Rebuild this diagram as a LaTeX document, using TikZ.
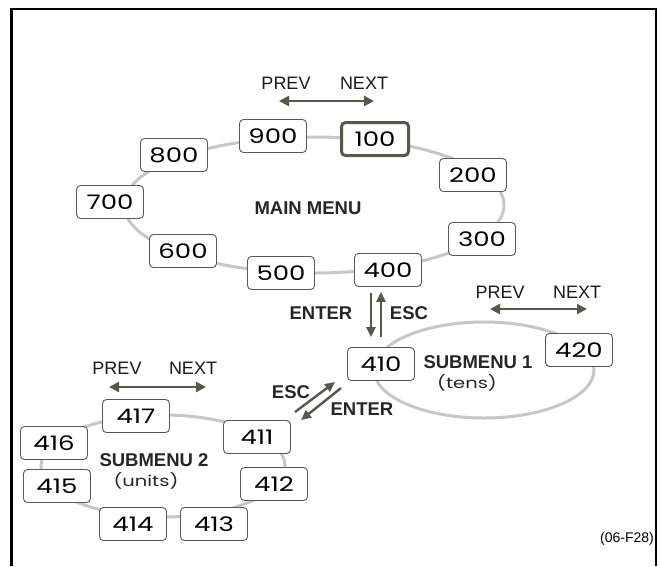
\documentclass[tikz,border=0pt]{standalone}
\usepackage{fontspec}
\setmainfont{Liberation Sans}
\newfontfamily\numfont[FakeStretch=1.3]{Poppins}
\usetikzlibrary{arrows.meta,calc}
\definecolor{arrowc}{HTML}{57584B}
\definecolor{ringc}{HTML}{C6C7C9}
\definecolor{boxc}{HTML}{5A5A55}
\tikzset{
  numbox/.style={draw=boxc, line width=0.9pt, rounded corners=4pt, fill=white,
    minimum width=67pt, minimum height=33pt, inner sep=0pt,
    font=\numfont\fontsize{20}{20}\selectfont},
  selbox/.style={numbox, draw=arrowc, line width=3pt},
  ring/.style={draw=ringc, line width=3pt},
  navarrow/.style={draw=arrowc, line width=2.4pt, {Triangle[length=10pt,width=10pt]}-{Triangle[length=10pt,width=10pt]}},
  onearrow/.style={draw=arrowc, line width=2.4pt, -{Triangle[length=10pt,width=9pt]}},
  navlabel/.style={font=\fontsize{18}{18}\selectfont, inner sep=0pt, text=black!90},
  boldlabel/.style={font=\bfseries\fontsize{18.5}{18.5}\selectfont, inner sep=0pt, text=black!85},
  sublabel/.style={font=\numfont\fontsize{15}{15}\selectfont, inner sep=0pt, text=black!85},
}
\begin{document}
\begin{tikzpicture}[x=1pt,y=-1pt]
\useasboundingbox (0,0) rectangle (660,566);
% frame
\draw[line width=2.3pt] (11.5,566) -- (11.5,9) -- (656,9) -- (656,566);

% rings
\draw[ring] (314,205) ellipse [x radius=190, y radius=68];
\draw[ring] (484,370) ellipse [x radius=110, y radius=48];
\draw[ring] (163,466) ellipse [x radius=122, y radius=51];

% main menu
\node[numbox] (n900) at (273,136) {900};
\node[selbox] (n100) at (375,139) {100};
\node[numbox] (n800) at (174,155) {800};
\node[numbox] (n200) at (473,175) {200};
\node[numbox] (n700) at (110,202) {700};
\node[numbox] (n300) at (482,239) {300};
\node[numbox] (n600) at (183,251) {600};
\node[numbox] (n500) at (281,273) {500};
\node[numbox] (n400) at (388,270) {400};
\node[boldlabel] (mm) at (308,208) {MAIN MENU};

\node[navlabel] (p1) at (286,83) {PREV};
\node[navlabel] (x1) at (364,83) {NEXT};
\coordinate (a1l) at (279,101);
\coordinate (a1r) at (374,101);
\draw[navarrow] (a1l) -- (a1r);

% submenu 1
\node[numbox] (n410) at (381,364) {410};
\node[numbox] (n420) at (579,350) {420};
\node[boldlabel] (s1) at (478,362) {SUBMENU 1};
\node[sublabel] (s1u) at (467,383) {(tens)};
\node[navlabel] (p2) at (500,292) {PREV};
\node[navlabel] (x2) at (577,292) {NEXT};
\coordinate (a2l) at (490,309);
\coordinate (a2r) at (587,309);
\draw[navarrow] (a2l) -- (a2r);

% enter / esc between 400 and 410
\draw[onearrow] ($(n400.south)+(-17,6)$) -- ($(n410.north)+(-10,-10)$);
\draw[onearrow] ($(n410.north)+(0,-10)$) -- ($(n400.south)+(-7,5)$);
\node[boldlabel] (ent1) at (321,313) {ENTER};
\node[boldlabel] (esc1) at (409,313) {ESC};

% submenu 2
\node[numbox] (n417) at (136,416) {417};
\node[numbox] (n416) at (54,443) {416};
\node[numbox] (n411) at (257,437) {411};
\node[numbox] (n415) at (57,486) {415};
\node[numbox] (n412) at (274,484) {412};
\node[numbox] (n414) at (133,524) {414};
\node[numbox] (n413) at (214,524) {413};
\node[boldlabel] (s2) at (154,460) {SUBMENU 2};
\node[sublabel] (s2u) at (146,481) {(units)};
\node[navlabel] (p3) at (117,368) {PREV};
\node[navlabel] (x3) at (193,368) {NEXT};
\coordinate (a3l) at (109,387);
\coordinate (a3r) at (206,387);
\draw[navarrow] (a3l) -- (a3r);

% esc / enter between 410 and 411
\coordinate (escs) at (295,412);
\coordinate (esce) at (335,382);
\coordinate (ents) at (341,388);
\coordinate (ente) at (301,420);
\draw[onearrow] (escs) -- (esce);
\draw[onearrow] (ents) -- (ente);
\node[boldlabel] (esc2) at (291,392) {ESC};
\node[boldlabel] (ent2) at (362,409) {ENTER};

\node[font=\fontsize{14}{14}\selectfont, inner sep=0pt] (ref) at (627,539) {(06-F28)};
\end{tikzpicture}
\end{document}
